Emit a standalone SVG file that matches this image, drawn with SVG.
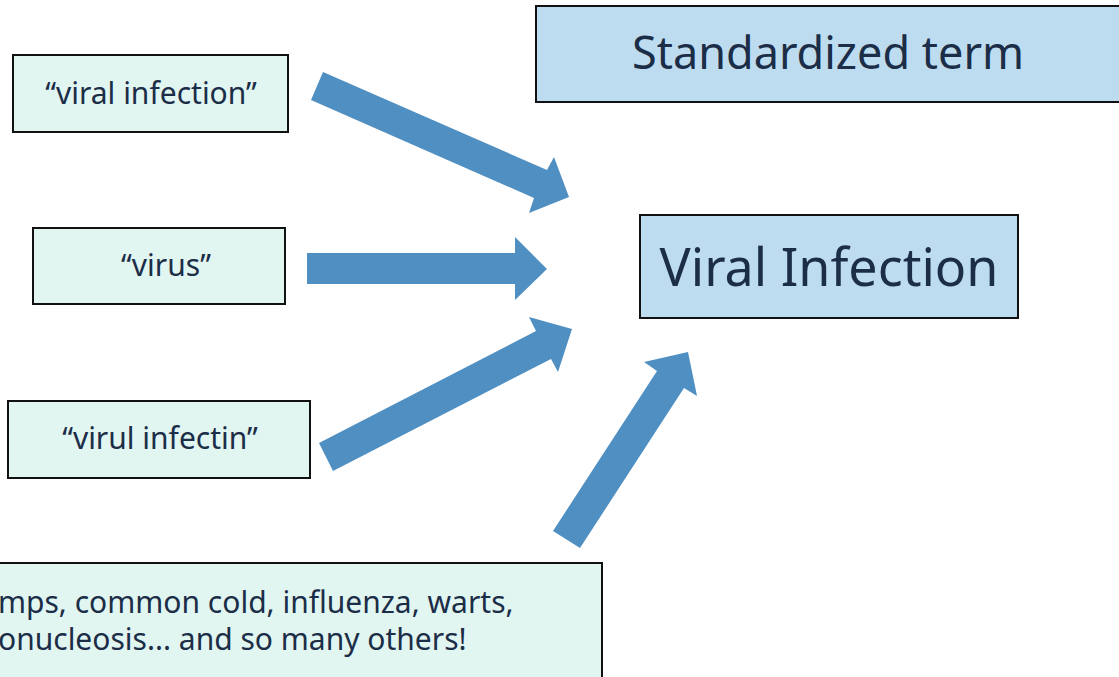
<svg xmlns="http://www.w3.org/2000/svg" width="1119" height="677" viewBox="0 0 1119 677">
<style>
.mint{fill:#e1f5f1;stroke:#111;stroke-width:2}
.blue{fill:#bedcf0;stroke:#111;stroke-width:2}
.t{font-family:"Noto Sans","Open Sans",sans-serif;fill:#1b2d47}
.s{font-size:30px}
.arr{fill:#4f8fc2}
</style>
<rect width="1119" height="677" fill="#fff"/>
<g id="connectors">
<polygon class="arr" points="323,72 547,170 554,157 569,197 529,213 534,198 311,100"/>
<polygon class="arr" points="307,253 515,253 515,237 547,269 515,300 515,284 307,284"/>
<polygon class="arr" points="319,443 536,331 529,317 572,329 558,372 551,359 333,471"/>
<polygon class="arr" points="553,531 657,371 644,362 688,352 697,396 684,388 580,548"/>
</g>
<g id="header">
<rect class="blue" x="536" y="6" width="590" height="96"/>
<text class="t" x="828" y="69" font-size="45" text-anchor="middle">Standardized term</text>
</g>
<g id="n1">
<rect class="mint" x="13" y="55" width="275" height="77"/>
<text class="t s" x="151" y="104" text-anchor="middle">“viral infection”</text>
</g>
<g id="n2">
<rect class="mint" x="33" y="228" width="252" height="76"/>
<text class="t s" x="166" y="276" text-anchor="middle">“virus”</text>
</g>
<g id="n3">
<rect class="mint" x="8" y="401" width="302" height="77"/>
<text class="t s" x="160" y="449" text-anchor="middle">“virul infectin”</text>
</g>
<g id="n4">
<rect class="mint" x="-10" y="563" width="612" height="130"/>
<text class="t s" x="-2" y="613">mps, common cold, influenza, warts,</text>
<text class="t s" x="-2" y="650">onucleosis... and so many others!</text>
</g>
<g id="target">
<rect class="blue" x="640" y="215" width="378" height="103"/>
<text class="t" x="829" y="286" font-size="52" text-anchor="middle">Viral Infection</text>
</g>
</svg>
